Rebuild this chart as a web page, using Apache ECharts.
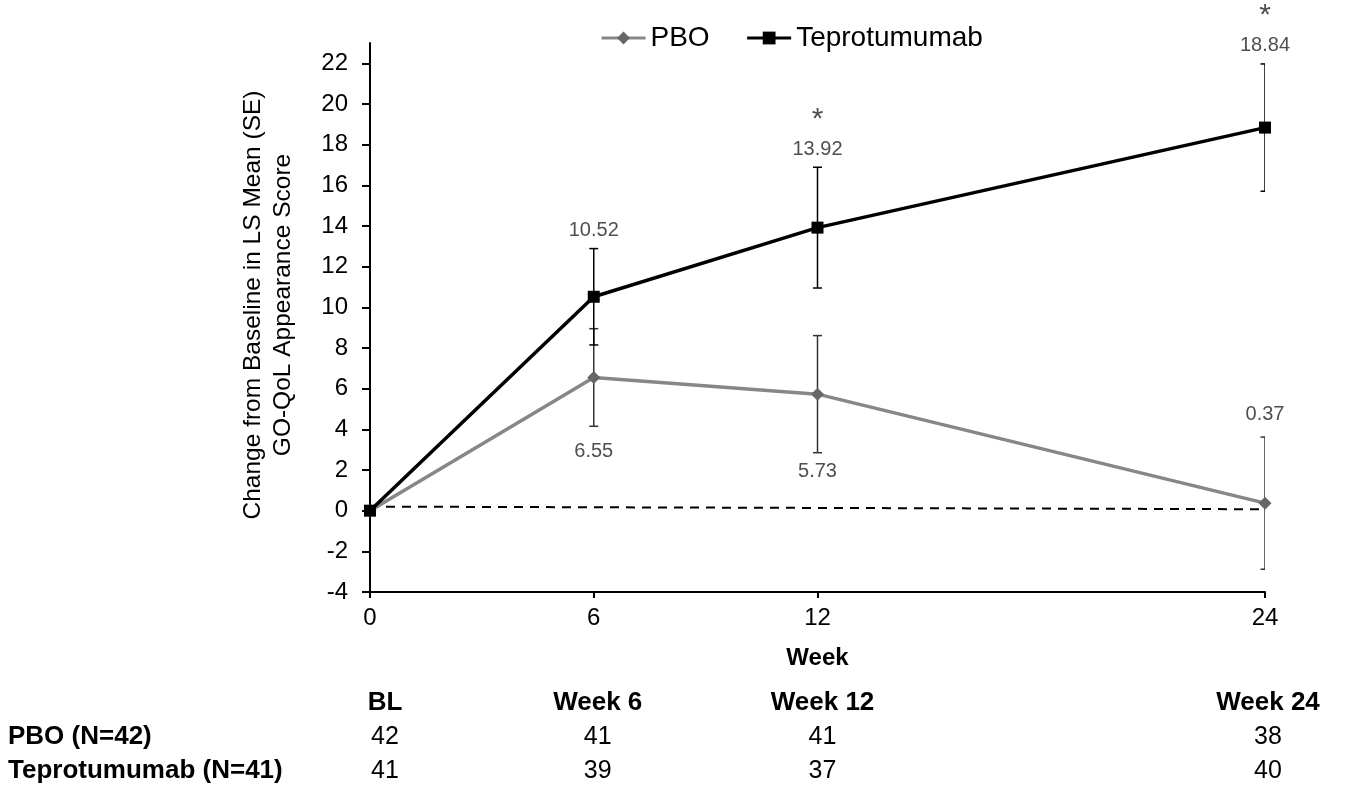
<!DOCTYPE html>
<html><head><meta charset="utf-8">
<script src="https://cdn.jsdelivr.net/npm/echarts@6/dist/echarts.min.js"></script>
<style>html,body{margin:0;padding:0;background:#fff}#c{width:1350px;height:799px}</style>
</head><body><div id="c"></div>
<script>
// ---- data ----
const weeks = [0, 6, 12, 24];
const pboMean = [0, 6.55, 5.73, 0.37];
const pboSE = [0, 2.40, 2.88, 3.25];
const teproMean = [0, 10.52, 13.92, 18.84];
const teproSE = [0, 2.37, 2.97, 3.13];
const teproSig = [false, false, true, true];
const refLine = [[0, 0.2], [24, 0.07]];
const yTicks = [-4, -2, 0, 2, 4, 6, 8, 10, 12, 14, 16, 18, 20, 22];
const xTicks = [0, 6, 12, 24];
const tableCols = ['BL', 'Week 6', 'Week 12', 'Week 24'];
const rowLabels = ['PBO (N=42)', 'Teprotumumab (N=41)'];
const pboN = [42, 41, 41, 38];
const teproN = [41, 39, 37, 40];

const FONT = '"Liberation Sans", Arial, sans-serif';
const chart = echarts.init(document.getElementById('c'), null, {renderer: 'canvas'});

function errSeries(mean, se, color) {
  return {
    type: 'custom', clip: true, z: 3, silent: true,
    data: weeks.map((w, i) => [w, mean[i] - se[i], mean[i] + se[i]]).filter((d, i) => se[i] > 0),
    renderItem: (params, api) => {
      const lo = api.coord([api.value(0), api.value(1)]);
      const hi = api.coord([api.value(0), api.value(2)]);
      const hw = 4.5;
      const st = {stroke: color, lineWidth: 1.5};
      return {type: 'group', children: [
        {type: 'line', shape: {x1: lo[0], y1: lo[1], x2: hi[0], y2: hi[1]}, style: st},
        {type: 'line', shape: {x1: lo[0] - hw, y1: lo[1], x2: lo[0] + hw, y2: lo[1]}, style: st},
        {type: 'line', shape: {x1: hi[0] - hw, y1: hi[1], x2: hi[0] + hw, y2: hi[1]}, style: st}
      ]};
    }
  };
}

const teproLabelData = [];
weeks.forEach((w, i) => {
  if (i === 0) return;
  teproLabelData.push({value: [w, teproMean[i] + teproSE[i]], mean: teproMean[i], sig: teproSig[i],
    label: {distance: 7}});
});
const pboLabelData = [];
const pboDist = [0, 15, 9, 13];
weeks.forEach((w, i) => {
  if (i === 0) return;
  const above = i === weeks.length - 1;
  pboLabelData.push({value: [w, above ? pboMean[i] + pboSE[i] : pboMean[i] - pboSE[i]], mean: pboMean[i],
    label: {position: above ? 'top' : 'bottom', distance: pboDist[i]}});
});

const option = {
  backgroundColor: '#fff',
  animation: false,
  textStyle: {fontFamily: FONT},
  grid: {left: 370, right: 85, top: 43, bottom: 207, containLabel: false},
  legend: {
    data: ['PBO', 'Teprotumumab'], left: 595, top: 19, itemWidth: 44, itemHeight: 16, itemGap: 36,
    lineStyle: {width: 3},
    textStyle: {fontSize: 28, color: '#000', fontFamily: FONT}
  },
  xAxis: {
    type: 'value', min: 0, max: 24,
    name: 'Week', nameLocation: 'middle', nameGap: 54,
    nameTextStyle: {fontSize: 24, fontWeight: 'bold', color: '#000', fontFamily: FONT},
    axisLine: {onZero: false, lineStyle: {color: '#000', width: 2}},
    axisTick: {show: true, length: 6, customValues: xTicks, lineStyle: {color: '#000', width: 2}},
    axisLabel: {customValues: xTicks, fontSize: 24, color: '#000', margin: 14, fontFamily: FONT},
    splitLine: {show: false}
  },
  yAxis: {
    type: 'value', min: -4, max: 23,
    axisLine: {show: true, onZero: false, lineStyle: {color: '#000', width: 2}},
    axisTick: {show: true, length: 8, customValues: yTicks, lineStyle: {color: '#000', width: 2}},
    axisLabel: {customValues: yTicks, fontSize: 24, color: '#000', margin: 22, fontFamily: FONT},
    splitLine: {show: false}
  },
  graphic: [],
  series: [
    {type: 'line', data: refLine, symbol: 'none', silent: true, z: 1,
     lineStyle: {color: '#000', width: 2, type: [9, 7]}},
    errSeries(pboMean, pboSE, '#333'),
    errSeries(teproMean, teproSE, '#000'),
    {name: 'PBO', type: 'line', z: 4, data: weeks.map((w, i) => [w, pboMean[i]]),
     symbol: 'diamond', symbolSize: 13, showAllSymbol: true,
     lineStyle: {color: '#878787', width: 3.5}, itemStyle: {color: '#666', borderWidth: 0}},
    {name: 'Teprotumumab', type: 'line', z: 5, data: weeks.map((w, i) => [w, teproMean[i]]),
     symbol: 'rect', symbolSize: 12, showAllSymbol: true,
     lineStyle: {color: '#000', width: 3.5}, itemStyle: {color: '#000', borderWidth: 0}},
    {type: 'scatter', z: 6, symbolSize: 0, silent: true, data: teproLabelData,
     label: {show: true, position: 'top', color: '#222',
       formatter: p => (p.data.sig ? '{s|*}\n' : '') + '{v|' + p.data.mean.toFixed(2) + '}',
       rich: {v: {fontSize: 20, lineHeight: 22, color: '#222', fontFamily: FONT},
              s: {fontSize: 30, lineHeight: 38, color: '#222', fontFamily: FONT}}}},
    {type: 'scatter', z: 6, symbolSize: 0, silent: true, data: pboLabelData,
     label: {show: true, fontSize: 20, color: '#222', fontFamily: FONT,
       formatter: p => p.data.mean.toFixed(2)}}
  ]
};
chart.setOption(option);

// y-axis title and the N table as text
const g = [];
g.push({type: 'text', x: 268, y: 305, rotation: Math.PI / 2,
  style: {text: 'Change from Baseline in LS Mean (SE)\nGO-QoL Appearance Score', textAlign: 'center',
    textVerticalAlign: 'middle', fontSize: 24.5, lineHeight: 30, fill: '#000', fontFamily: FONT}});
const colAdj = [15, 4, 5, 3];
const colX = weeks.map((w, i) => chart.convertToPixel({xAxisIndex: 0}, w) + colAdj[i]);
const rowY = [703, 737, 771];
tableCols.forEach((t, i) => g.push({type: 'text', x: colX[i], y: rowY[0],
  style: {text: t, textAlign: 'center', textVerticalAlign: 'middle', fontSize: 26, fontWeight: 'bold', fill: '#000', fontFamily: FONT}}));
rowLabels.forEach((t, r) => g.push({type: 'text', x: 8, y: rowY[r + 1],
  style: {text: t, textAlign: 'left', textVerticalAlign: 'middle', fontSize: 26, fontWeight: 'bold', fill: '#000', fontFamily: FONT}}));
[pboN, teproN].forEach((arr, r) => arr.forEach((n, i) => g.push({type: 'text', x: colX[i], y: rowY[r + 1],
  style: {text: String(n), textAlign: 'center', textVerticalAlign: 'middle', fontSize: 25, fill: '#000', fontFamily: FONT}})));
chart.setOption({graphic: g});
</script>
</body></html>
